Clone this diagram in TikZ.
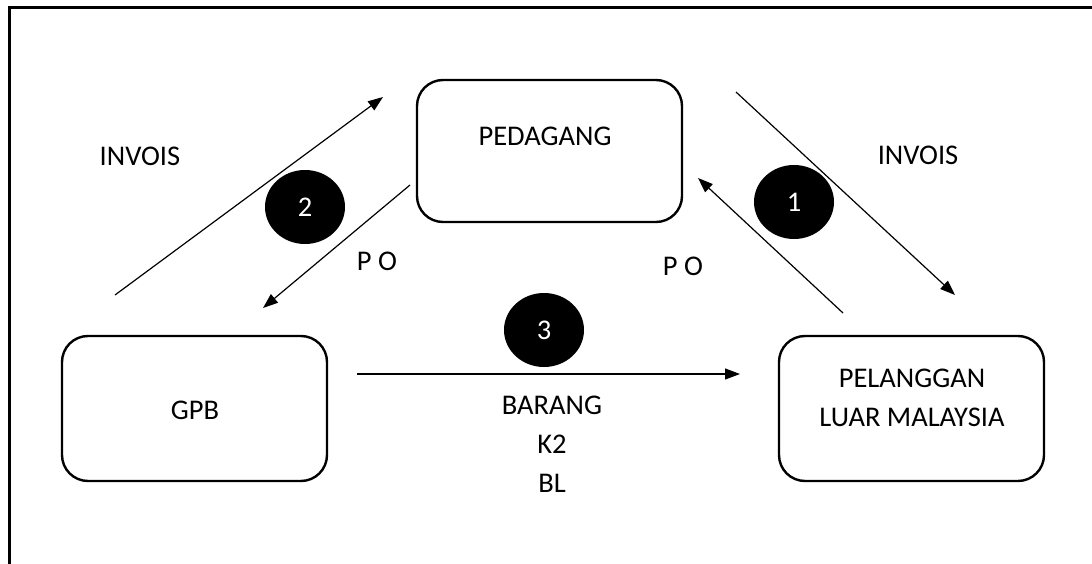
\documentclass[tikz,border=0pt]{standalone}
\usepackage{fontspec}
\setmainfont{Carlito}
\usetikzlibrary{arrows.meta,shapes.geometric}
\tikzset{
  box/.style={draw, line width=2.4pt, rounded corners=26pt, minimum width=265pt, minimum height=145pt, inner sep=0pt},
  num/.style={ellipse, fill=black, minimum width=80pt, minimum height=74pt, inner sep=0pt, text=white},
  lbl/.style={inner sep=0pt, align=center},
  flow/.style={line width=1.2pt, -{Triangle[length=15pt,width=11pt]}},
  frame/.style={line width=3pt}
}
\begin{document}
\begin{tikzpicture}[x=1pt,y=-1pt,font=\fontsize{28.5}{39}\selectfont]
\useasboundingbox (0,0) rectangle (1092,564);
\draw[frame] (9,564) -- (9,8) -- (1092,8);
% boxes
\node[box, minimum height=142pt] (ped) at (549.5,151) {};
\node[lbl] (pedt) at (545,136) {PEDAGANG};
\node[box] (gpb) at (194.5,408.5) {};
\node[lbl] (gpbt) at (195,410) {GPB};
\node[box] (pel) at (911.5,408.5) {};
\node[lbl] (pelt) at (912,397.5) {PELANGGAN\\LUAR MALAYSIA};
% numbered circles
\node[num] (n2) at (305,207) {2};
\node[num] (n1) at (794,202) {1};
\node[num] (n3) at (544,330) {3};
% arrow end points
\coordinate (a1s) at (115,295); \coordinate (a1e) at (383,97);
\coordinate (a2s) at (410,185); \coordinate (a2e) at (263,308);
\coordinate (a3s) at (736,92);  \coordinate (a3e) at (955,295);
\coordinate (a4s) at (843,313); \coordinate (a4e) at (698,178);
\coordinate (a5s) at (357,374); \coordinate (a5e) at (740,374);
\draw[flow] (a1s) -- (a1e);
\draw[flow] (a2s) -- (a2e);
\draw[flow] (a3s) -- (a3e);
\draw[flow] (a4s) -- (a4e);
\draw[flow] (a5s) -- (a5e);
% labels
\node[lbl] (inv1) at (140,156) {INVOIS};
\node[lbl] (inv2) at (918,155) {INVOIS};
\node[lbl] (po1) at (377,261) {P O};
\node[lbl] (po2) at (683,266) {P O};
\node[lbl] (bar) at (552,444) {BARANG\\K2\\BL};
\end{tikzpicture}
\end{document}
